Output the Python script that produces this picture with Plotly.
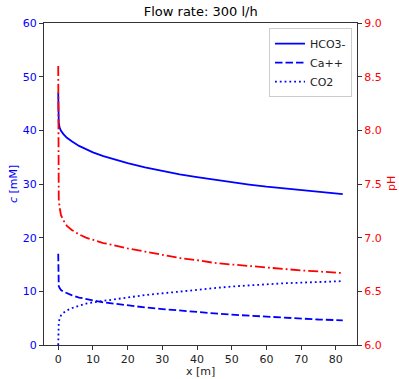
import plotly.graph_objects as go

x_m = [0, 0.02, 0.05, 0.15, 0.4, 0.8, 1.5, 2.5, 4, 6, 8, 10, 13, 16, 20, 25, 30, 35,
       40, 45, 50, 55, 60, 65, 70, 75, 82]
hco3 = [47, 44, 42.5, 41.5, 40.5, 39.9, 39.3, 38.6, 37.9, 37.1, 36.5, 35.9, 35.2, 34.6,
        33.9, 33.1, 32.4, 31.8, 31.3, 30.8, 30.3, 29.9, 29.5, 29.15, 28.8, 28.5, 28.1]
ca = [17, 13, 11.4, 11.0, 10.6, 10.25, 9.95, 9.65, 9.25, 8.85, 8.55, 8.3, 7.95, 7.7,
      7.35, 7.0, 6.7, 6.4, 6.1, 5.9, 5.65, 5.45, 5.25, 5.05, 4.9, 4.75, 4.6]
co2 = [0, 2.5, 3.6, 4.2, 4.9, 5.5, 6.0, 6.45, 6.9, 7.35, 7.7, 7.95, 8.25, 8.5,
       8.85, 9.3, 9.65, 10.0, 10.3, 10.6, 10.9, 11.15, 11.3, 11.5, 11.65, 11.8, 11.9]
ph = [8.6, 7.8, 7.45, 7.36, 7.28, 7.21, 7.16, 7.11, 7.07, 7.03, 7.0, 6.98, 6.95, 6.93,
      6.90, 6.87, 6.84, 6.81, 6.79, 6.765, 6.75, 6.735, 6.72, 6.705, 6.695, 6.685, 6.67]

x_ticks = [0, 10, 20, 30, 40, 50, 60, 70, 80]
c_ticks = [0, 10, 20, 30, 40, 50, 60]
ph_ticks = [6.0, 6.5, 7.0, 7.5, 8.0, 8.5, 9.0]
ph_labels = ["6.0", "6.5", "7.0", "7.5", "8.0", "8.5", "9.0"]

BLUE = "#0000ff"
RED = "#ff0000"
FONT = "DejaVu Sans"
FS = 11

fig = go.Figure()
fig.add_trace(go.Scatter(x=x_m, y=hco3, mode="lines", name="HCO3-",
                         line=dict(color=BLUE, width=1.8, dash="solid")))
fig.add_trace(go.Scatter(x=x_m, y=ca, mode="lines", name="Ca++",
                         line=dict(color=BLUE, width=1.8, dash="7.5px,3px")))
fig.add_trace(go.Scatter(x=x_m, y=co2, mode="lines", name="CO2",
                         line=dict(color=BLUE, width=1.8, dash="1.8px,3px")))
fig.add_trace(go.Scatter(x=x_m, y=ph, mode="lines", name="pH", yaxis="y2", showlegend=False,
                         line=dict(color=RED, width=1.8, dash="10px,3px,1.8px,3px")))

axis_common = dict(showline=True, linecolor="#333333", linewidth=1, ticks="outside",
                   ticklen=4, tickwidth=1, tickcolor="#333333", showgrid=False,
                   zeroline=False, automargin=False)

fig.update_layout(
    width=399, height=379,
    margin=dict(l=44, r=42, t=23, b=34),
    paper_bgcolor="white", plot_bgcolor="white",
    font=dict(family=FONT, size=FS, color="black"),
    title=dict(text="Flow rate: 300 l/h", x=0.503, xanchor="center",
               y=1 - 11 / 379, yanchor="middle", font=dict(size=13, color="black")),
    xaxis=dict(range=[-4.1, 86.1], tickvals=x_ticks,
               tickfont=dict(size=FS, color="#222222"), mirror=True, **axis_common),
    yaxis=dict(range=[0, 60], tickvals=c_ticks,
               tickfont=dict(size=FS, color=BLUE), **axis_common),
    yaxis2=dict(range=[6, 9], tickvals=ph_ticks, ticktext=ph_labels,
                overlaying="y", side="right",
                tickfont=dict(size=FS, color=RED), **axis_common),
    legend=dict(x=0.984, y=0.984, xanchor="right", yanchor="top",
                bordercolor="#cccccc", borderwidth=1, bgcolor="rgba(255,255,255,0.8)",
                font=dict(size=FS, color="#222222"), tracegroupgap=0, itemwidth=30),
    annotations=[
        dict(text="x [m]", xref="paper", yref="paper", x=0.5, y=-(371 - 345) / 322,
             xanchor="center", yanchor="middle", showarrow=False,
             font=dict(size=FS, color="#222222")),
        dict(text="<i>c</i> [mM]", xref="paper", yref="paper", x=-(44 - 13) / 313, y=0.5,
             xanchor="center", yanchor="middle", textangle=-90, showarrow=False,
             font=dict(size=FS, color=BLUE)),
        dict(text="pH", xref="paper", yref="paper", x=1 + (391 - 357) / 313, y=0.5,
             xanchor="center", yanchor="middle", textangle=-90, showarrow=False,
             font=dict(size=FS, color=RED)),
    ],
)

fig.write_html("out.html", config={"displayModeBar": False},
               post_script="document.body.style.margin='0';")
